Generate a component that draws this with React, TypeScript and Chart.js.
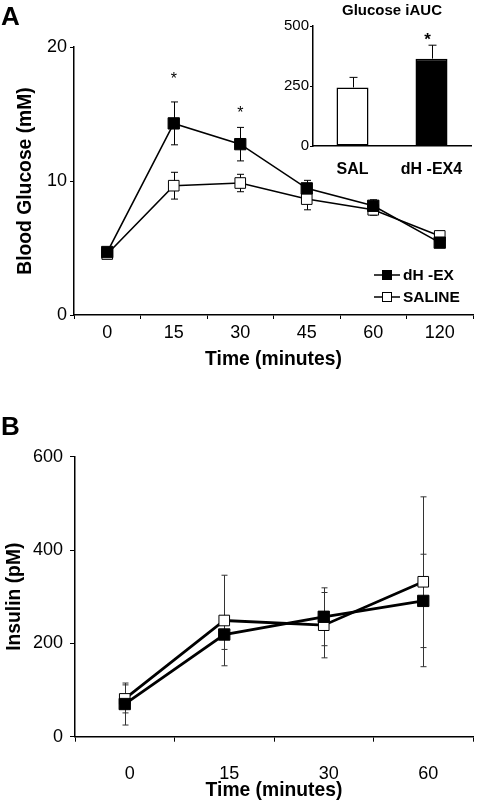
import React, { useEffect, useRef } from "react";
import { Chart, registerables } from "chart.js";

Chart.register(...registerables);

const FONT = "'Liberation Sans', Arial, Helvetica, sans-serif";

// ---- Panel A: blood glucose ----
const glucoseTimes = ["0", "15", "30", "45", "60", "120"];
const glucoseDhEx = [4.7, 14.3, 12.75, 9.45, 8.15, 5.4];
const glucoseDhExErr = [0.3, 1.6, 1.25, 0.6, 0.45, 0.35];
const glucoseSaline = [4.55, 9.65, 9.85, 8.65, 7.85, 5.9];
const glucoseSalineErr = [0.25, 1.0, 0.65, 0.8, 0.4, 0.35];
const glucoseSig = [null, 17.9, 15.4, null, null, null];
const glucoseTicks = [0, 10, 20];

// ---- Inset: glucose iAUC ----
const aucGroups = ["SAL", "dH -EX4"];
const aucValues = [244, 364];
const aucErr = [42, 56];
const aucSig = [null, 462];
const aucTicks = [0, 250, 500];

// ---- Panel B: insulin ----
const insulinTimes = ["0", "15", "30", "60"];
const insulinDhEx = [70, 219, 257, 291];
const insulinDhExErr = [45, 32, 62, 100];
const insulinSaline = [81, 249, 239, 332];
const insulinSalineErr = [30, 97, 70, 182];
const insulinTicks = [0, 200, 400, 600];

const TITLE_SIZE = 19.3;

const errorBarPlugin = {
  id: "errorBarsCustom",
  beforeDatasetsDraw(chart: any) {
    const { ctx } = chart;
    const yScale = chart.scales.y;
    chart.data.datasets.forEach((ds: any, di: number) => {
      if (!ds.errors) return;
      const meta = chart.getDatasetMeta(di);
      ctx.save();
      ctx.strokeStyle = ds.errorColor || "#000";
      ctx.lineWidth = ds.errorWidth || 1;
      meta.data.forEach((el: any, i: number) => {
        const v = ds.data[i];
        const e = ds.errors[i];
        if (v == null || e == null) return;
        const x = Math.round(el.x) + 0.5;
        const top = yScale.getPixelForValue(v + e);
        const bot = ds.errorUpOnly ? yScale.getPixelForValue(v) : yScale.getPixelForValue(v - e);
        const cw = ds.errorCap || 3;
        ctx.beginPath();
        ctx.moveTo(x, top);
        ctx.lineTo(x, bot);
        ctx.moveTo(x - cw, top);
        ctx.lineTo(x + cw, top);
        if (!ds.errorUpOnly) {
          ctx.moveTo(x - cw, bot);
          ctx.lineTo(x + cw, bot);
        }
        ctx.stroke();
      });
      ctx.restore();
    });
  },
};

const sigPlugin = {
  id: "sigMarks",
  afterDatasetsDraw(chart: any) {
    const marks = chart.options.plugins.sigMarks;
    if (!marks) return;
    const { ctx } = chart;
    const xScale = chart.scales.x;
    const yScale = chart.scales.y;
    ctx.save();
    ctx.fillStyle = "#000";
    ctx.font = `${marks.weight || "normal"} ${marks.size}px ${FONT}`;
    ctx.textAlign = "center";
    ctx.textBaseline = "alphabetic";
    marks.values.forEach((v: number | null, i: number) => {
      if (v == null) return;
      const x = xScale.getPixelForValue(i) + (marks.dx || 0);
      const y = yScale.getPixelForValue(v);
      ctx.fillText("*", x, y + marks.size * 0.57);
    });
    ctx.restore();
  },
};

const legendPlugin = {
  id: "insideLegend",
  afterDraw(chart: any) {
    const cfg = chart.options.plugins.insideLegend;
    if (!cfg) return;
    const { ctx, chartArea } = chart;
    ctx.save();
    chart.data.datasets.forEach((ds: any, i: number) => {
      const y = chartArea.top + cfg.top + i * cfg.rowGap;
      const x0 = chartArea.right + cfg.rightOffset;
      ctx.strokeStyle = "#000";
      ctx.lineWidth = 1.5;
      ctx.beginPath();
      ctx.moveTo(x0, y);
      ctx.lineTo(x0 + 26, y);
      ctx.stroke();
      const s = 10;
      ctx.fillStyle = ds.pointBackgroundColor;
      ctx.fillRect(x0 + 13 - s / 2, y - s / 2, s, s);
      ctx.lineWidth = 1;
      ctx.strokeRect(x0 + 13 - s / 2 + 0.5, y - s / 2 + 0.5, s - 1, s - 1);
      ctx.fillStyle = "#000";
      ctx.font = `bold 15.5px ${FONT}`;
      ctx.textAlign = "left";
      ctx.textBaseline = "middle";
      ctx.fillText(ds.label, x0 + 29, y + 1);
    });
    ctx.restore();
  },
};

function glucoseConfig(): any {
  return {
    type: "line",
    data: {
      labels: glucoseTimes,
      datasets: [
        {
          label: "dH -EX",
          data: glucoseDhEx,
          errors: glucoseDhExErr,
          errorCap: 3.5,
          borderColor: "#000",
          borderWidth: 1.6,
          pointStyle: "rect",
          pointRadius: 8,
          pointBackgroundColor: "#000",
          pointBorderColor: "#000",
          pointBorderWidth: 1,
          tension: 0,
          fill: false,
        },
        {
          label: "SALINE",
          data: glucoseSaline,
          errors: glucoseSalineErr,
          errorCap: 3.5,
          borderColor: "#000",
          borderWidth: 1.6,
          pointStyle: "rect",
          pointRadius: 7.5,
          pointBackgroundColor: "#fff",
          pointBorderColor: "#000",
          pointBorderWidth: 1,
          tension: 0,
          fill: false,
        },
      ],
    },
    options: {
      animation: false,
      responsive: false,
      maintainAspectRatio: false,
      events: [],
      layout: { padding: { top: 47, right: 5, left: 0, bottom: 0 } },
      scales: {
        x: {
          type: "category",
          offset: true,
          grid: {
            offset: true,
            display: true,
            drawOnChartArea: false,
            drawTicks: true,
            tickLength: 4,
            color: "#000",
            lineWidth: 1,
          },
          border: { display: true, color: "#000", width: 1.5 },
          ticks: { color: "#000", font: { family: FONT, size: 18 }, padding: 3, maxRotation: 0, autoSkip: false },
          title: {
            display: true,
            text: "Time (minutes)",
            color: "#000",
            font: { family: FONT, size: TITLE_SIZE, weight: "bold" },
            padding: { top: 0, bottom: 8.4 },
          },
          afterFit: (s: any) => {
            s.height = 65;
          },
        },
        y: {
          min: 0,
          max: 20,
          afterBuildTicks: (s: any) => {
            s.ticks = glucoseTicks.map((v) => ({ value: v }));
          },
          grid: { display: true, drawOnChartArea: false, drawTicks: true, tickLength: 4, color: "#000", lineWidth: 1 },
          border: { display: true, color: "#000", width: 1.5 },
          ticks: { color: "#000", font: { family: FONT, size: 18 }, padding: 3 },
          title: {
            display: true,
            text: "Blood Glucose (mM)",
            color: "#000",
            font: { family: FONT, size: TITLE_SIZE, weight: "bold" },
            padding: { top: 14.4, bottom: 0 },
          },
          afterFit: (s: any) => {
            s.width = 74;
          },
        },
      },
      plugins: {
        legend: { display: false },
        tooltip: { enabled: false },
        sigMarks: { values: glucoseSig, size: 16 },
        insideLegend: { top: 228, rowGap: 22, rightOffset: -99 },
      },
    },
    plugins: [errorBarPlugin, sigPlugin, legendPlugin],
  };
}

function aucConfig(): any {
  return {
    type: "bar",
    data: {
      labels: aucGroups,
      datasets: [
        {
          label: "Glucose iAUC",
          data: aucValues,
          errors: aucErr,
          errorUpOnly: true,
          errorCap: 4,
          backgroundColor: ["#fff", "#000"],
          borderColor: "#000",
          borderWidth: 1.5,
          borderSkipped: false,
          barPercentage: 0.45,
          categoryPercentage: 0.9,
        },
      ],
    },
    options: {
      animation: false,
      responsive: false,
      maintainAspectRatio: false,
      events: [],
      layout: { padding: { top: 0, right: 11, left: 0, bottom: 0 } },
      scales: {
        x: {
          grid: { display: false },
          border: { display: true, color: "#000", width: 1.5 },
          ticks: { color: "#000", font: { family: FONT, size: 16, weight: "bold" }, padding: 6, maxRotation: 0, autoSkip: false },
          afterFit: (s: any) => {
            s.height = 29;
          },
        },
        y: {
          min: 0,
          max: 500,
          afterBuildTicks: (s: any) => {
            s.ticks = aucTicks.map((v) => ({ value: v }));
          },
          grid: { display: true, drawOnChartArea: false, drawTicks: true, tickLength: 3, color: "#000", lineWidth: 1 },
          border: { display: true, color: "#000", width: 1.5 },
          ticks: { color: "#000", font: { family: FONT, size: 15 }, padding: 1 },
          afterFit: (s: any) => {
            s.width = 43;
          },
        },
      },
      plugins: {
        legend: { display: false },
        tooltip: { enabled: false },
        title: {
          display: true,
          text: "Glucose iAUC",
          color: "#000",
          fullSize: false,
          font: { family: FONT, size: 15, weight: "bold" },
          padding: { top: 1.5, bottom: 6.5 },
        },
        sigMarks: { values: aucSig, size: 17, weight: "bold", dx: -4 },
      },
    },
    plugins: [errorBarPlugin, sigPlugin],
  };
}

function insulinConfig(): any {
  return {
    type: "line",
    data: {
      labels: insulinTimes,
      datasets: [
        {
          label: "dH -EX",
          data: insulinDhEx,
          errors: insulinDhExErr,
          errorCap: 3,
          errorColor: "#333",
          borderColor: "#000",
          borderWidth: 2.8,
          pointStyle: "rect",
          pointRadius: 8,
          pointBackgroundColor: "#000",
          pointBorderColor: "#000",
          pointBorderWidth: 1,
          tension: 0,
          fill: false,
        },
        {
          label: "SALINE",
          data: insulinSaline,
          errors: insulinSalineErr,
          errorCap: 3,
          errorColor: "#333",
          borderColor: "#000",
          borderWidth: 2.8,
          pointStyle: "rect",
          pointRadius: 7.5,
          pointBackgroundColor: "#fff",
          pointBorderColor: "#000",
          pointBorderWidth: 1,
          tension: 0,
          fill: false,
        },
      ],
    },
    options: {
      animation: false,
      responsive: false,
      maintainAspectRatio: false,
      events: [],
      layout: { padding: { top: 56.7, right: 2, left: 0, bottom: 0 } },
      scales: {
        x: {
          type: "category",
          offset: true,
          grid: {
            offset: true,
            display: true,
            drawOnChartArea: false,
            drawTicks: true,
            tickLength: 5,
            color: "#000",
            lineWidth: 1,
          },
          border: { display: true, color: "#000", width: 1.5 },
          ticks: {
            color: "#000",
            font: { family: FONT, size: 18 },
            padding: 22,
            labelOffset: 5,
            maxRotation: 0,
            autoSkip: false,
          },
          title: {
            display: true,
            text: "Time (minutes)",
            color: "#000",
            font: { family: FONT, size: TITLE_SIZE, weight: "bold" },
            padding: { top: 0, bottom: 1.4 },
          },
          afterFit: (s: any) => {
            s.height = 67.3;
          },
        },
        y: {
          min: 0,
          max: 600,
          afterBuildTicks: (s: any) => {
            s.ticks = insulinTicks.map((v) => ({ value: v }));
          },
          grid: { display: true, drawOnChartArea: false, drawTicks: true, tickLength: 5, color: "#000", lineWidth: 1 },
          border: { display: true, color: "#000", width: 1.5 },
          ticks: { color: "#000", font: { family: FONT, size: 18 }, padding: 7 },
          title: {
            display: true,
            text: "Insulin (pM)",
            color: "#000",
            font: { family: FONT, size: TITLE_SIZE, weight: "bold" },
            padding: { top: 3.4, bottom: 0 },
          },
          afterFit: (s: any) => {
            s.width = 75;
          },
        },
      },
      plugins: {
        legend: { display: false },
        tooltip: { enabled: false },
      },
    },
    plugins: [errorBarPlugin],
  };
}

function ChartCanvas(props: { make: () => any; left: number; top: number; width: number; height: number }) {
  const ref = useRef<HTMLCanvasElement>(null);
  useEffect(() => {
    const chart = new Chart(ref.current as HTMLCanvasElement, props.make());
    return () => chart.destroy();
  }, []);
  return (
    <canvas
      ref={ref}
      width={props.width}
      height={props.height}
      style={{
        position: "absolute",
        left: props.left,
        top: props.top,
        width: props.width,
        height: props.height,
      }}
    />
  );
}

const panelLetter: React.CSSProperties = {
  position: "absolute",
  left: 1,
  fontFamily: FONT,
  fontWeight: "bold",
  fontSize: 26,
  lineHeight: "26px",
  color: "#000",
};

export default function App() {
  return (
    <div
      style={{
        position: "absolute",
        left: 0,
        top: 0,
        width: 482,
        height: 804,
        background: "#fff",
        overflow: "hidden",
      }}
    >
      <ChartCanvas make={glucoseConfig} left={0} top={0} width={482} height={380} />
      <ChartCanvas make={aucConfig} left={270} top={0} width={212} height={175} />
      <ChartCanvas make={insulinConfig} left={0} top={400} width={482} height={404} />
      <div style={{ ...panelLetter, top: 3 }}>A</div>
      <div style={{ ...panelLetter, top: 413 }}>B</div>
    </div>
  );
}
